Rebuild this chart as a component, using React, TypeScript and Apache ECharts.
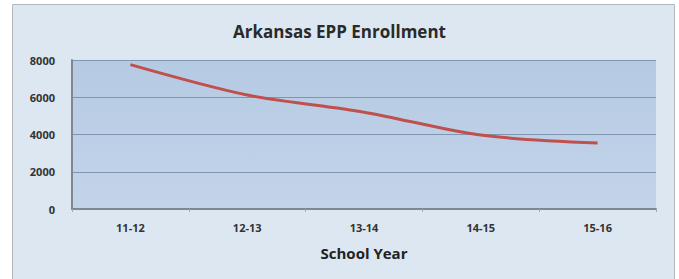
import React, { useEffect, useRef } from "react";
import * as echarts from "echarts";

const categories = ["11-12", "12-13", "13-14", "14-15", "15-16"];
const enrollment = [7750, 6120, 5200, 3970, 3540];
const yTicks = [0, 2000, 4000, 6000, 8000];

export default function App() {
  const ref = useRef<HTMLDivElement>(null);
  useEffect(() => {
    if (!ref.current) return;
    const chart = echarts.init(ref.current, null, { renderer: "svg" });
    const font = "'Open Sans', 'DejaVu Sans', sans-serif";
    chart.setOption({
      animation: false,
      backgroundColor: "#ffffff",
      graphic: [
        {
          type: "rect",
          shape: { x: 12.5, y: 4.5, width: 662, height: 300 },
          style: { fill: "#dde7f1", stroke: "#b4b8bc", lineWidth: 1 },
          z: -10,
        },
      ],
      title: {
        text: "Arkansas EPP Enrollment",
        left: "center",
        top: 18,
        textStyle: { fontFamily: font, fontSize: 17, fontWeight: "bold", color: "#2a2a2a" },
      },
      grid: {
        left: 72,
        right: 23,
        top: 60,
        bottom: 70,
        show: true,
        borderWidth: 0,
        backgroundColor: new echarts.graphic.LinearGradient(0, 0, 0, 1, [
          { offset: 0, color: "#b5cae3" },
          { offset: 1, color: "#c3d4e9" },
        ]),
      },
      xAxis: {
        type: "category",
        data: categories,
        boundaryGap: true,
        name: "School Year",
        nameLocation: "middle",
        nameGap: 36,
        nameTextStyle: { fontFamily: font, fontSize: 15, fontWeight: "bold", color: "#222" },
        axisLine: { lineStyle: { color: "#7f8790", width: 2 } },
        axisTick: { show: true, length: 3, lineStyle: { color: "#a0a8b0" } },
        axisLabel: { fontFamily: font, fontSize: 11, fontWeight: "bold", color: "#333", margin: 13 },
      },
      yAxis: {
        type: "value",
        min: yTicks[0],
        max: yTicks[yTicks.length - 1],
        interval: 2000,
        axisLine: { show: true, lineStyle: { color: "#7f8790", width: 2 } },
        axisTick: { show: false },
        axisLabel: {
          fontFamily: font,
          fontSize: 11,
          fontWeight: "bold",
          color: "#333",
          margin: 17,
          formatter: (v: number) => String(v),
        },
        splitLine: { lineStyle: { color: "#7f96b2", width: 1 } },
      },
      series: [
        {
          type: "line",
          data: enrollment,
          smooth: 0.3,
          showSymbol: false,
          lineStyle: { color: "#c0504d", width: 3 },
          itemStyle: { color: "#c0504d" },
        },
      ],
    });
    return () => chart.dispose();
  }, []);
  return (
    <div
      ref={ref}
      style={{ position: "fixed", left: 0, top: 0, width: 679, height: 279 }}
    />
  );
}
